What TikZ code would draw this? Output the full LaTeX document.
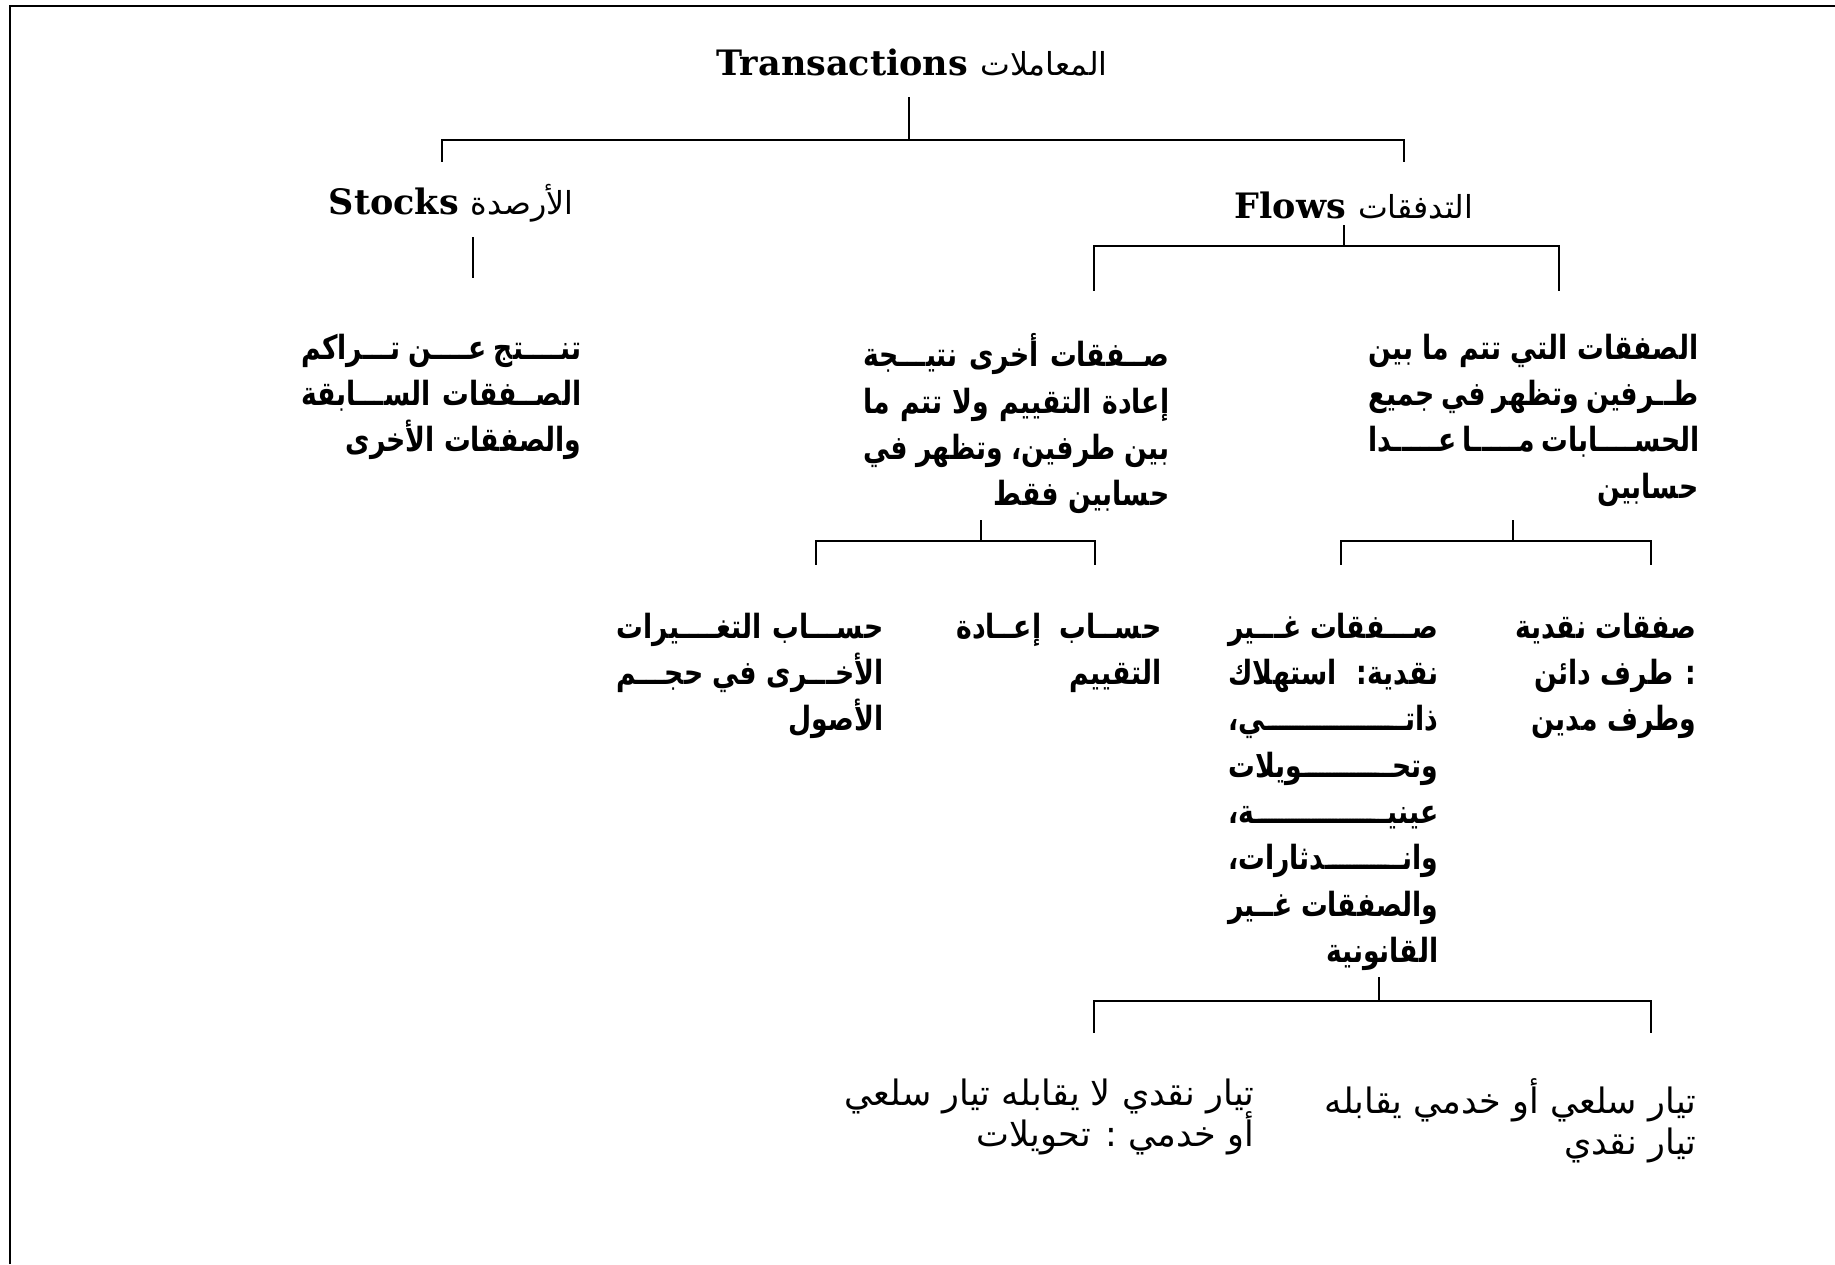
\documentclass[tikz,border=0pt]{standalone}
\usepackage{fontspec}
\TeXXeTstate=1
\newfontfamily\arb[Script=Arabic]{DejaVu Sans}
\newfontfamily\arbc[Script=Arabic,FakeStretch=0.8]{DejaVu Sans}
\newfontfamily\lat{DejaVu Serif}
\newcommand\tightls{\lineskiplimit -20pt\relax}
\newcommand\JL[2]{\hbox to #1{\beginR #2\endR}}
\newcommand\RL[1]{\hbox{\beginR #1\endR}}
\newcommand\KL[3]{\hbox to #1{\beginR #2\xleaders\hbox to 1pt{ـ\hss}\hfill #3\endR}}
\newcommand\bodyfont{\arbc\bfseries\fontsize{10}{13.9}\selectfont\tightls}
\newcommand\leaffont{\arb\fontsize{10.5}{12.4}\selectfont\tightls}
\newcommand\hdrar{\arb\mdseries\fontsize{9.5}{12}\selectfont}
\begin{document}
\begin{tikzpicture}[x=0.3pt,y=-0.3pt,
  ln/.style={line width=0.6pt, line cap=rect},
  hdr/.style={inner sep=0pt, font=\lat\bfseries\fontsize{10.5}{13}\selectfont},
  body/.style={inner sep=0pt, anchor=north east, align=right, font=\bodyfont},
  leaf/.style={inner sep=0pt, anchor=north east, align=right, font=\leaffont}]
\useasboundingbox (0,0) rectangle (1835,1264);
\fill[white] (0,0) rectangle (1835,1264);
% frame
\draw[line width=0.6pt] (10,1264) -- (10,6) -- (1835,6);
% headers
\node[hdr] (t) at (912,63) {Transactions {\hdrar\beginR المعاملات\endR}};
\node[hdr] (s) at (451,203) {Stocks {\hdrar\beginR الأرصدة\endR}};
\node[hdr] (f) at (1354,205) {Flows {\hdrar\beginR التدفقات\endR}};
% bodies
\node[body] (sb) at (582,333) {\JL{84pt}{تنــــتج عــــن تـــراكم}\\ \JL{84pt}{الصــفقات الســـابقة}\\ \RL{والصفقات الأخرى}};
\node[body] (ob) at (1170,333) {\JL{91.8pt}{صــفقات أخرى نتيـــجة}\\ \JL{91.8pt}{إعادة التقييم ولا تتم ما}\\ \JL{91.8pt}{بين طرفين، وتظهر في}\\ \RL{حسابين فقط}};
\node[body] (mb) at (1699,333) {\JL{99pt}{الصفقات التي تتم ما بين}\\ \JL{99pt}{طــرفين وتظهر في جميع}\\ \JL{99pt}{الحســــابات مـــــا عـــــدا}\\ \RL{حسابين}};
% level 3
\node[body] (rv) at (1162,612) {\JL{61.5pt}{حســاب إعــادة}\\ \RL{التقييم}};
\node[body] (ov) at (884,612) {\JL{80pt}{حســـاب التغــــيرات}\\ \JL{80pt}{الأخـــرى في حجـــم}\\ \RL{الأصول}};
\node[body] (cs) at (1697,612) {\RL{صفقات نقدية}\\ \RL{: طرف دائن}\\ \RL{وطرف مدين}};
\node[body] (nc) at (1439,612) {\JL{63pt}{صـــفقات غـــير}\\ \JL{63pt}{نقدية:  استهلاك}\\ \KL{63pt}{ذاتـ}{ـي،}\\ \KL{63pt}{وتحـ}{ـويلات}\\ \KL{63pt}{عينيـ}{ـة،}\\ \KL{63pt}{وانـ}{ـدثارات،}\\ \JL{63pt}{والصفقات غــير}\\ \RL{القانونية}};
% level 4
\node[leaf] (gd) at (1697,1078) {\RL{تيار سلعي أو خدمي يقابله}\\ \RL{تيار نقدي}};
\node[leaf] (tr) at (1255,1078) {\RL{تيار نقدي لا يقابله تيار سلعي}\\ \RL{أو خدمي : تحويلات}};
% connectors
\coordinate (a0) at (909,98); \coordinate (a1) at (909,140);
\coordinate (aL) at (442,140); \coordinate (aR) at (1404,140);
\coordinate (aLd) at (442,161); \coordinate (aRd) at (1404,161);
\draw[ln] (a0) -- (a1);
\draw[ln] (aLd) -- (aL) -- (aR) -- (aRd);
\coordinate (s0) at (473,238); \coordinate (s1) at (473,277);
\draw[ln] (s0) -- (s1);
\coordinate (b0) at (1344,226); \coordinate (b1) at (1344,246);
\coordinate (bL) at (1094,246); \coordinate (bR) at (1559,246);
\coordinate (bLd) at (1094,290); \coordinate (bRd) at (1559,290);
\draw[ln] (b0) -- (b1);
\draw[ln] (bLd) -- (bL) -- (bR) -- (bRd);
\coordinate (c0) at (981,521); \coordinate (c1) at (981,541);
\coordinate (cL) at (816,541); \coordinate (cR) at (1095,541);
\coordinate (cLd) at (816,564); \coordinate (cRd) at (1095,564);
\draw[ln] (c0) -- (c1);
\draw[ln] (cLd) -- (cL) -- (cR) -- (cRd);
\coordinate (d0) at (1513,521); \coordinate (d1) at (1513,541);
\coordinate (dL) at (1341,541); \coordinate (dR) at (1651,541);
\coordinate (dLd) at (1341,564); \coordinate (dRd) at (1651,564);
\draw[ln] (d0) -- (d1);
\draw[ln] (dLd) -- (dL) -- (dR) -- (dRd);
\coordinate (e0) at (1379,978); \coordinate (e1) at (1379,1001);
\coordinate (eL) at (1094,1001); \coordinate (eR) at (1651,1001);
\coordinate (eLd) at (1094,1032); \coordinate (eRd) at (1651,1032);
\draw[ln] (e0) -- (e1);
\draw[ln] (eLd) -- (eL) -- (eR) -- (eRd);
\end{tikzpicture}
\end{document}
